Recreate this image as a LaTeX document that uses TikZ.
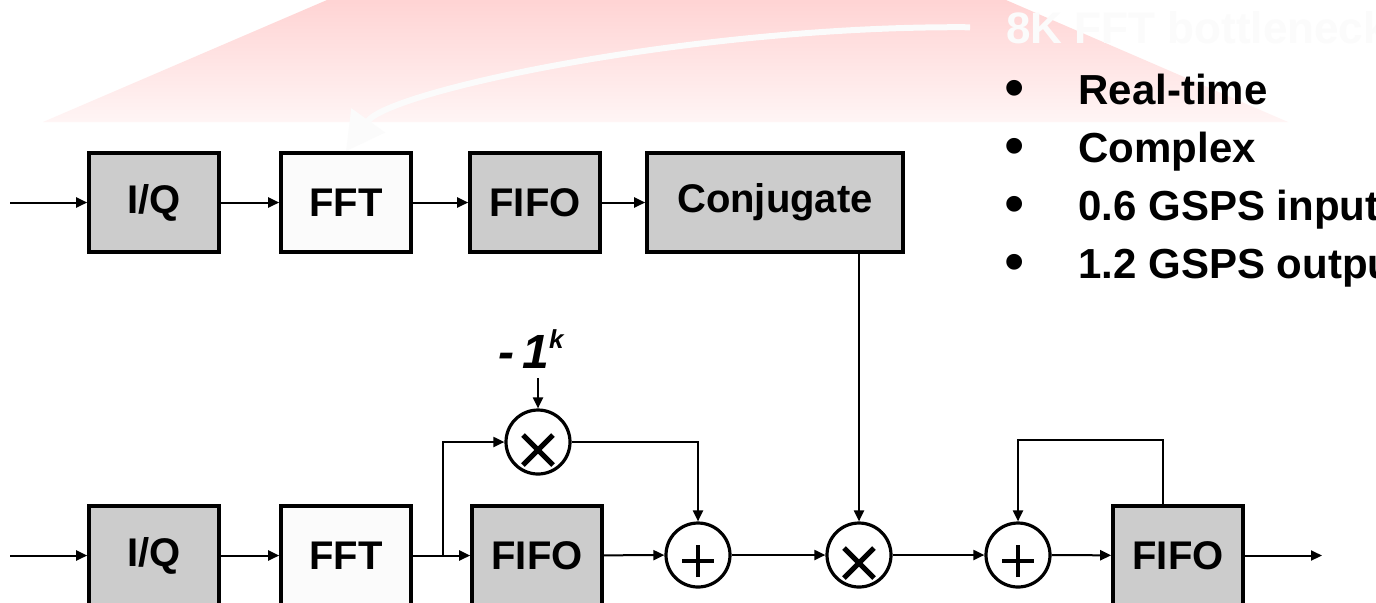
\documentclass[tikz,border=0pt]{standalone}
\usepackage{fontspec}
\setmainfont{Liberation Sans}
\usetikzlibrary{arrows.meta}

\begin{document}
\begin{tikzpicture}[x=0.5pt,y=-0.5pt,>={Triangle[length=5.5pt,width=5pt]},
  every node/.style={font=\bfseries},
  blk/.style={draw,line width=1.8pt,fill=gray!40,minimum width=65pt,minimum height=49.5pt,
    inner sep=0pt,font=\fontsize{20}{20}\selectfont\bfseries},
  wblk/.style={blk,fill=gray!3},
  sum/.style={circle,draw,line width=1.6pt,fill=white,minimum size=32pt,inner sep=0pt,
    path picture={\draw[line width=2.2pt] ([yshift=-3pt]path picture bounding box.center)
      +(-8pt,0) -- +(8pt,0) +(0,-8pt) -- +(0,8pt);}},
  mul/.style={sum,path picture={\draw[line width=2.6pt] ([yshift=-4pt]path picture bounding box.center)
      +(-7.5pt,-7.5pt) -- +(7.5pt,7.5pt) +(-7.5pt,7.5pt) -- +(7.5pt,-7.5pt);}},
  link/.style={line width=1pt,->}]
  \fill[white] (0,0) rectangle (1376,602);
  \useasboundingbox (0,0) rectangle (1376,602);

  % callout behind
  \shade[top color=red!17,bottom color=red!4] (43,122) -- (327,0) -- (1006,0) -- (1288,122) -- cycle;
  \node[anchor=base west,inner sep=0pt,text=gray!3,font=\fontsize{22}{22}\selectfont\bfseries]
    (bneck) at (1006,43) {8K FFT bottleneck};
  \foreach \txt [count=\i] in {Real-time,Complex,0.6 GSPS input,1.2 GSPS output}{
    \node[anchor=base west,inner sep=0pt,font=\fontsize{21}{21}\selectfont\bfseries]
      (item\i) at (1078,46+58*\i) {\txt};
    \node[anchor=base,inner sep=0pt,font=\fontsize{29}{29}\selectfont] (dot\i) at (1015,49+58*\i) {\textbullet};
  }

  % top row
  \node[blk] (iqA) at (154,202.5) {I/Q};
  \node[wblk] (fftA) at (346,202.5) {FFT};
  \node[blk] (fifoA) at (535,202.5) {FIFO};
  \node[blk,minimum width=128pt] (conj) at (775,202.5) {Conjugate};
  \coordinate (inA) at (10,202.5);

  % bottom row
  \node[blk] (iqB) at (154,555.5) {I/Q};
  \node[wblk] (fftB) at (346,555.5) {FFT};
  \node[blk] (fifoB) at (537,555.5) {FIFO};
  \node[sum] (addA) at (698,555) {};
  \node[mul] (mulB) at (859,555) {};
  \node[sum] (addB) at (1018,555) {};
  \node[blk] (fifoC) at (1178,555.5) {FIFO};
  \node[mul] (mulA) at (538,442) {};
  \node[anchor=base,inner sep=0pt,font=\fontsize{24}{24}\selectfont\bfseries\itshape]
    (klab) at (531,368) {-\,1\raisebox{10pt}{\fontsize{13}{13}\selectfont k}};
  \coordinate (inB) at (10,555.5);
  \coordinate (split) at (443,555.5);
  \coordinate (kin) at (538,378);
  \coordinate (out) at (1322,555.5);

  \draw[link] (inA) -- (iqA);
  \draw[link] (iqA) -- (fftA);
  \draw[link] (fftA) -- (fifoA);
  \draw[link] (fifoA) -- (conj);
  \draw[link] (inB) -- (iqB);
  \draw[link] (iqB) -- (fftB);
  \draw[link] (fftB) -- (fifoB);
  \draw[link] (split) |- (mulA);
  \draw[link] (kin) -- (mulA);
  \draw[link] (mulA) -| (addA);
  \draw[link] (fifoB) -- (addA);
  \draw[link] (addA) -- (mulB);
  \draw[link] (conj.south -| mulB) -- (mulB);
  \draw[link] (mulB) -- (addB);
  \draw[link] (addB) -- (fifoC);
  \draw[link] ([xshift=-7.5pt]fifoC.north) -- ++(0,-64) -| (addB);
  \draw[link] (fifoC) -- (out);

  % white pointer onto the FFT
  \draw[line width=3pt,gray!3,-{Triangle[length=19pt,width=20pt]}]
    ([xshift=-18pt]bneck.west) .. controls (700,25) and (390,90) .. (fftA.north);
\end{tikzpicture}
\end{document}
